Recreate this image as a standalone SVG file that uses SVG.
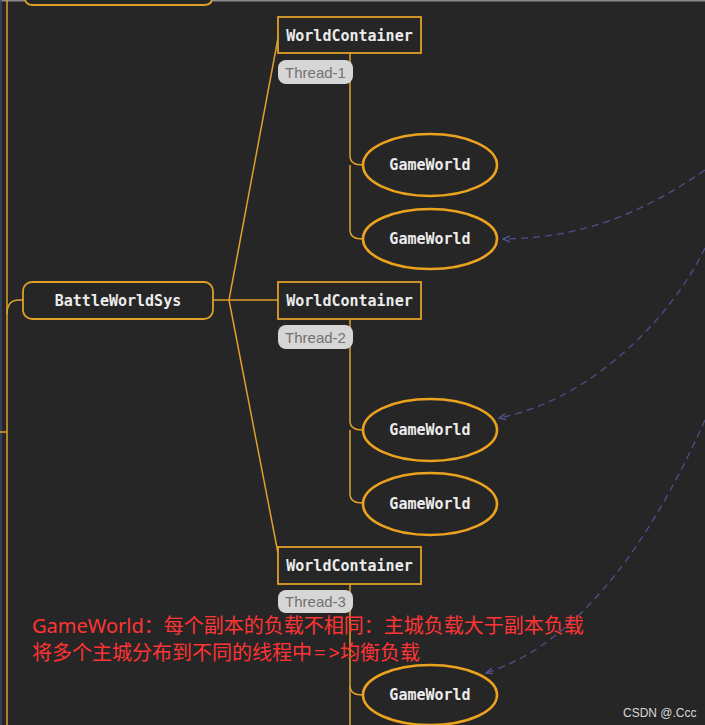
<svg xmlns="http://www.w3.org/2000/svg" width="705" height="725" viewBox="0 0 705 725">
<defs>
<style>
.bg{fill:#262627}
.ln{fill:none;stroke:#e0a02a;stroke-width:1.5}
.box{fill:#262627;stroke:#e0a02a;stroke-width:1.8}
.ell{fill:#262627;stroke:#eba21f;stroke-width:2.6}
.mono{font-family:"DejaVu Sans Mono","Liberation Mono",monospace;font-size:15px;fill:#ececec;font-weight:bold;text-anchor:middle}
.tag{fill:#d6d6d6;stroke:none}
.tagt{font-family:"Liberation Sans",Arial,sans-serif;font-size:15px;fill:#727272;text-anchor:middle}
.dash{fill:none;stroke:#4f4f8c;stroke-width:1.3;stroke-dasharray:7 5}
.red{font-family:"Noto Sans","Noto Sans CJK SC",sans-serif;font-size:20px;fill:#ff3434}
</style>
<marker id="ah" markerWidth="8" markerHeight="8" refX="7" refY="4" orient="auto" markerUnits="userSpaceOnUse">
<path d="M0,1 L7,4 L0,7" fill="none" stroke="#5a5a9a" stroke-width="1.2"/>
</marker>
</defs>
<rect class="bg" x="0" y="0" width="705" height="725"/>
<line x1="0" y1="0.8" x2="705" y2="0.8" stroke="#8a8a8a" stroke-width="1.6"/>
<line x1="1" y1="0" x2="1" y2="725" stroke="#3a4868" stroke-width="1.5"/>

<g id="connectors">
<line class="ln" x1="7" y1="0" x2="7" y2="725"/>
<line class="ln" x1="0" y1="432" x2="7" y2="432"/>
<path class="ln" d="M7,314 Q7,300 19,300 H23"/>
<path class="ln" d="M213,300 H278"/>
<path class="ln" d="M229,300 L278,38"/>
<path class="ln" d="M229,300 L278,553"/>
<path class="ln" d="M350,53 V156 Q350,165 363,165"/>
<path class="ln" d="M350,165 V230 Q350,239 363,239"/>
<path class="ln" d="M350,319 V421 Q350,430 363,430"/>
<path class="ln" d="M350,430 V494 Q350,503 363,503"/>
<path class="ln" d="M350,584 V725"/>
<path class="ln" d="M350,686 Q350,695 363,695"/>
<path class="dash" d="M705,170 C640,215 580,238 503,239" marker-end="url(#ah)"/>
<path class="dash" d="M705,248 C670,320 590,400 499,418" marker-end="url(#ah)"/>
<path class="dash" d="M705,420 C660,520 590,640 486,673" marker-end="url(#ah)"/>
</g>

<g id="top-node">
<path class="box" d="M25,-10 V-2 Q25,5 33,5 H204 Q212,5 212,-2 V-10"/>
</g>

<g id="battleworldsys">
<rect class="box" x="23" y="282" width="190" height="37" rx="9"/>
<text class="mono" x="118" y="305.5">BattleWorldSys</text>
</g>

<g id="wc1">
<rect class="box" x="278" y="17" width="143" height="36"/>
<text class="mono" x="349.5" y="40.5">WorldContainer</text>
</g>
<g id="thread1">
<rect class="tag" x="278" y="60" width="75" height="24" rx="8"/>
<text class="tagt" x="315.5" y="77.5">Thread-1</text>
</g>
<g id="gw1a">
<ellipse class="ell" cx="430" cy="165" rx="67" ry="31"/>
<text class="mono" x="430" y="170">GameWorld</text>
</g>
<g id="gw1b">
<ellipse class="ell" cx="430" cy="239" rx="67" ry="30"/>
<text class="mono" x="430" y="244">GameWorld</text>
</g>

<g id="wc2">
<rect class="box" x="278" y="282" width="143" height="37"/>
<text class="mono" x="349.5" y="305.5">WorldContainer</text>
</g>
<g id="thread2">
<rect class="tag" x="278" y="325" width="75" height="24" rx="8"/>
<text class="tagt" x="315.5" y="342.5">Thread-2</text>
</g>
<g id="gw2a">
<ellipse class="ell" cx="430" cy="430" rx="67" ry="31"/>
<text class="mono" x="430" y="435">GameWorld</text>
</g>
<g id="gw2b">
<ellipse class="ell" cx="430" cy="504" rx="67" ry="31"/>
<text class="mono" x="430" y="509">GameWorld</text>
</g>

<g id="wc3">
<rect class="box" x="278" y="547" width="143" height="37"/>
<text class="mono" x="349.5" y="570.5">WorldContainer</text>
</g>
<g id="thread3">
<rect class="tag" x="278" y="590" width="75" height="23" rx="8"/>
<text class="tagt" x="315.5" y="607">Thread-3</text>
</g>
<g id="gw3a">
<ellipse class="ell" cx="430" cy="695" rx="67" ry="30"/>
<text class="mono" x="430" y="700">GameWorld</text>
</g>

<g id="note">
<text class="red" x="32" y="633">GameWorld：每个副本的负载不相同：主城负载大于副本负载</text>
<text class="red" x="32" y="660">将多个主城分布到不同的线程中<tspan dx="2">=</tspan><tspan dx="3">&gt;</tspan>均衡负载</text>
</g>
<text x="623" y="717" font-family="'Liberation Sans',Arial,sans-serif" font-size="12" fill="#d8d8d8">CSDN @.Ccc</text>
</svg>
